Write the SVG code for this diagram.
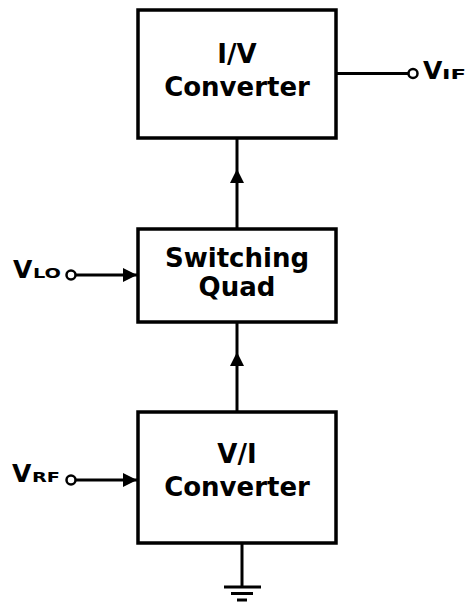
<svg xmlns="http://www.w3.org/2000/svg" width="468" height="604" viewBox="0 0 468 604">
<style>
.box{fill:#fff;stroke:#000;stroke-width:3.5}
.w{stroke:#000;stroke-width:3;fill:none}
.t{font-family:"DejaVu Sans","Liberation Sans",sans-serif;font-weight:bold;font-size:26px;text-anchor:middle;fill:#000}
.lab{font-family:"DejaVu Sans","Liberation Sans",sans-serif;font-weight:bold;font-size:25px;fill:#000}
.sub{font-family:"DejaVu Sans","Liberation Sans",sans-serif;font-weight:bold;font-size:14px;fill:#000}
.term{fill:#fff;stroke:#000;stroke-width:2.5}
</style>
<defs>
<marker id="ah" markerWidth="14" markerHeight="14" viewBox="0 0 14 14" refX="14" refY="7" orient="auto" markerUnits="userSpaceOnUse">
<path d="M0,0 L14,7 L0,14 Z" fill="#000"/>
</marker>
</defs>
<g id="connectors">
<line class="w" x1="336" y1="73.500" x2="409" y2="73.500"/>
<line class="w" x1="237" y1="138" x2="237" y2="229"/>
<path d="M230,183 L237,169 L244,183 Z" fill="#000"/>
<line class="w" x1="237" y1="322" x2="237" y2="412"/>
<path d="M230,366 L237,352 L244,366 Z" fill="#000"/>
<line class="w" x1="75" y1="275" x2="137" y2="275" marker-end="url(#ah)"/>
<line class="w" x1="75" y1="480" x2="137" y2="480" marker-end="url(#ah)"/>
<line class="w" x1="242" y1="543" x2="242" y2="587"/>
<line class="w" x1="224" y1="587" x2="261" y2="587"/>
<line class="w" x1="231" y1="593.500" x2="253" y2="593.500"/>
<line class="w" x1="237" y1="600" x2="247" y2="600"/>
</g>
<g id="iv">
<rect class="box" x="138" y="10" width="198" height="128"/>
<text class="t" x="237" y="63">I/V</text>
<text class="t" x="237" y="96">Converter</text>
</g>
<g id="sq">
<rect class="box" x="138" y="229" width="198" height="93"/>
<text class="t" x="237" y="267">Switching</text>
<text class="t" x="237" y="296">Quad</text>
</g>
<g id="vi">
<rect class="box" x="138" y="412" width="198" height="131"/>
<text class="t" x="237" y="463">V/I</text>
<text class="t" x="237" y="496">Converter</text>
</g>
<g id="vif">
<circle class="term" cx="413" cy="73.500" r="4.5"/>
<text class="lab" x="423" y="79">V</text>
<text class="sub" x="442" y="79" textLength="24" lengthAdjust="spacingAndGlyphs">IF</text>
</g>
<g id="vlo">
<circle class="term" cx="71" cy="275" r="4.5"/>
<text class="lab" x="13" y="278">V</text>
<text class="sub" x="33" y="278" textLength="28" lengthAdjust="spacingAndGlyphs">LO</text>
</g>
<g id="vrf">
<circle class="term" cx="71" cy="480" r="4.5"/>
<text class="lab" x="12" y="482">V</text>
<text class="sub" x="32" y="482" textLength="28" lengthAdjust="spacingAndGlyphs">RF</text>
</g>
</svg>
